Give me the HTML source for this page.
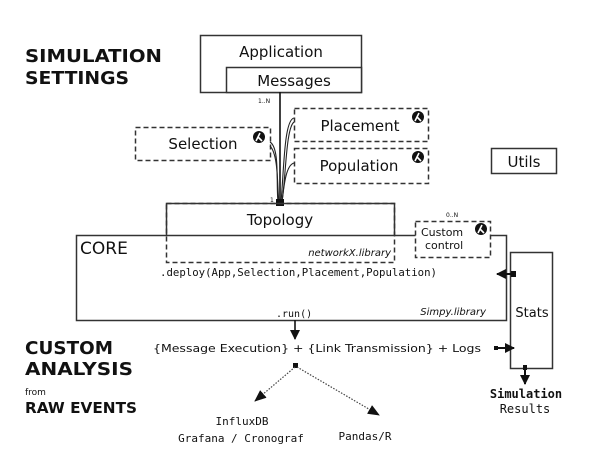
<!DOCTYPE html>
<html><head><meta charset="utf-8"><style>
html,body{margin:0;padding:0;background:#fff;}
svg{display:block;}
text{font-family:"DejaVu Sans","Liberation Sans",sans-serif;fill:#111;}
.m{font-family:"DejaVu Sans Mono","Liberation Mono",monospace;}
</style></head><body>
<svg width="591" height="461" viewBox="0 0 591 461" xmlns="http://www.w3.org/2000/svg">
<defs>
<marker id="ah" markerWidth="10" markerHeight="10" refX="9" refY="5" orient="auto" markerUnits="userSpaceOnUse"><path d="M0,0 L10,5 L0,10 z" fill="#111"/></marker>
<marker id="ah2" markerWidth="12" markerHeight="10" refX="11" refY="5" orient="auto" markerUnits="userSpaceOnUse"><path d="M0,0 L12,5 L0,10 z" fill="#111"/></marker>
<g id="lam"><circle r="6" fill="#111"/><path d="M-3,4 L1,-4 M-1,0 L3,4" stroke="#fff" stroke-width="1.6" fill="none"/></g>
</defs>
<text x="25" y="62" font-size="18" font-weight="bold" textLength="137" lengthAdjust="spacingAndGlyphs">SIMULATION</text>
<text x="25" y="84" font-size="18" font-weight="bold" textLength="104" lengthAdjust="spacingAndGlyphs">SETTINGS</text>
<text x="25" y="354" font-size="18" font-weight="bold" textLength="88" lengthAdjust="spacingAndGlyphs">CUSTOM</text>
<text x="25" y="375" font-size="18" font-weight="bold" textLength="108" lengthAdjust="spacingAndGlyphs">ANALYSIS</text>
<text x="25" y="395" font-size="9" fill="#444">from</text>
<text x="25" y="413" font-size="15" font-weight="bold" textLength="112" lengthAdjust="spacingAndGlyphs">RAW EVENTS</text>

<rect x="200.5" y="35.5" width="161" height="57" fill="#fff" stroke="#333" stroke-width="1.5"/>
<rect x="226.5" y="67.5" width="135" height="25" fill="#fff" stroke="#333" stroke-width="1.5"/>
<text x="281" y="57" font-size="15" text-anchor="middle">Application</text>
<text x="294" y="86" font-size="15" text-anchor="middle">Messages</text>
<text x="258" y="103" font-size="6" fill="#444">1..N</text>
<line x1="280" y1="92" x2="280" y2="202" stroke="#111" stroke-width="1.6"/>

<g fill="#fff" stroke="#333" stroke-width="1.5" stroke-dasharray="5,3">
<rect x="135.5" y="127.5" width="135" height="33"/>
<rect x="294.5" y="108.5" width="134" height="33"/>
<rect x="294.5" y="148.5" width="134" height="35"/>
</g>
<text x="203" y="149" font-size="15" text-anchor="middle">Selection</text>
<text x="360" y="131" font-size="15" text-anchor="middle">Placement</text>
<text x="359" y="171" font-size="15" text-anchor="middle">Population</text>
<use href="#lam" x="259" y="137"/>
<use href="#lam" x="418" y="117"/>
<use href="#lam" x="418" y="157"/>
<g fill="none" stroke="#222" stroke-width="1.1">
<path d="M270,142 C280,148 276,185 278,202"/>
<path d="M270,146 C279,155 277,190 279,202"/>
<path d="M294,118 C284,120 284,170 281,202"/>
<path d="M294,122 C286,128 286,175 282,202"/>
<path d="M294,163 C286,165 284,185 282,202"/>
</g>
<rect x="276" y="199" width="8" height="7" fill="#111"/>
<text x="270" y="202" font-size="6" fill="#444">1</text>

<rect x="491.5" y="148.5" width="65" height="25" fill="#fff" stroke="#333" stroke-width="1.5"/>
<text x="524" y="167" font-size="15" text-anchor="middle">Utils</text>

<rect x="76.5" y="235.5" width="430" height="85" fill="#fff" stroke="#333" stroke-width="1.5"/>
<text x="80" y="254" font-size="17">CORE</text>
<rect x="166.5" y="203.5" width="228" height="59" fill="none" stroke="#333" stroke-width="1.5" stroke-dasharray="5,3"/>
<path d="M166.5,235 V203.5 H394.5 V235" fill="none" stroke="#333" stroke-width="1.5"/>
<text x="280" y="225" font-size="15" text-anchor="middle">Topology</text>
<text x="391" y="256" font-size="10" font-style="italic" text-anchor="end">networkX.library</text>
<text x="160" y="276" font-size="10.5" class="m" fill="#666" textLength="277" lengthAdjust="spacingAndGlyphs">.deploy(App,Selection,Placement,Population)</text>
<text x="486" y="315" font-size="10" font-style="italic" text-anchor="end">Simpy.library</text>
<text x="276" y="317" font-size="10" class="m" fill="#666">.run()</text>

<rect x="415.5" y="221.5" width="75" height="36" fill="#fff" stroke="#333" stroke-width="1.5" stroke-dasharray="5,3"/>
<text x="421" y="236" font-size="11">Custom</text>
<text x="425" y="249" font-size="11">control</text>
<use href="#lam" x="481" y="229"/>
<text x="446" y="217" font-size="6" fill="#444">0..N</text>

<rect x="510.5" y="252.5" width="42" height="116" fill="#fff" stroke="#333" stroke-width="1.5"/>
<text x="532" y="317" font-size="13" text-anchor="middle">Stats</text>
<line x1="516" y1="274" x2="497" y2="274" stroke="#111" stroke-width="2" marker-end="url(#ah)"/>
<rect x="511" y="271" width="5" height="6" fill="#111"/>
<line x1="498" y1="348" x2="514" y2="348" stroke="#111" stroke-width="2" marker-end="url(#ah)"/>
<rect x="494" y="346" width="4" height="4" fill="#111"/>
<line x1="525" y1="366" x2="525" y2="384" stroke="#111" stroke-width="2" marker-end="url(#ah)"/>
<rect x="523" y="365" width="4" height="5" fill="#111"/>
<text x="526" y="398" font-size="12" font-weight="bold" class="m" text-anchor="middle">Simulation</text>
<text x="525" y="413" font-size="12" class="m" text-anchor="middle" fill="#333">Results</text>

<line x1="295" y1="320" x2="295" y2="339" stroke="#111" stroke-width="1.6" marker-end="url(#ah)"/>
<text x="153" y="352" font-size="11" fill="#333" textLength="328" lengthAdjust="spacingAndGlyphs">{Message Execution} + {Link Transmission} + Logs</text>
<rect x="293" y="363" width="5" height="5" fill="#111"/>
<line x1="295" y1="367" x2="255" y2="401" stroke="#444" stroke-width="1.2" stroke-dasharray="1.5,1.5" marker-end="url(#ah2)"/>
<line x1="297" y1="367" x2="379" y2="415" stroke="#444" stroke-width="1.2" stroke-dasharray="1.5,1.5" marker-end="url(#ah2)"/>
<text x="242" y="425" font-size="11" class="m" text-anchor="middle">InfluxDB</text>
<text x="241" y="442" font-size="11" class="m" text-anchor="middle">Grafana / Cronograf</text>
<text x="365" y="440" font-size="11" class="m" text-anchor="middle">Pandas/R</text>
</svg>
</body></html>
